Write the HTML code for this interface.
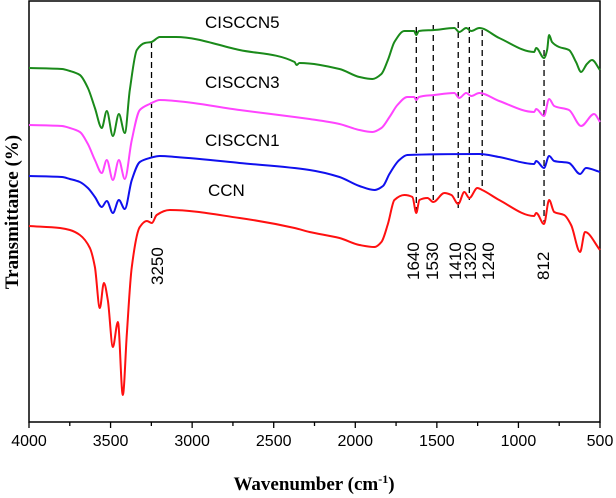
<!DOCTYPE html>
<html><head><meta charset="utf-8"><style>
html,body{margin:0;padding:0;background:#fff;}
svg{display:block;}
text{font-family:"Liberation Sans",Arial,sans-serif;}
</style></head><body>
<svg id="chart" width="616" height="498" viewBox="0 0 616 498" xmlns="http://www.w3.org/2000/svg">
<g id="plot"></g>
<text x="314" y="490" text-anchor="middle" style="font-family:'Liberation Serif',serif;font-weight:bold;font-size:19px;">Wavenumber (cm<tspan dy="-7" font-size="12">-1</tspan><tspan dy="7">)</tspan></text>
<text transform="translate(18,212) rotate(-90)" text-anchor="middle" style="font-family:'Liberation Serif',serif;font-weight:bold;font-size:19px;">Transmittance (%)</text>
</svg>
<script>
const xTicks = [4000,3500,3000,2500,2000,1500,1000,500];
const seriesNames = ["CISCCN5","CISCCN3","CISCCN1","CCN"];
const seriesColors = ["#1a8a1a","#ff44ff","#1010ee","#ff1010"];
const greenW = [4000,3798,3749,3688,3639,3596,3554,3523,3486,3449,3413,3382,3339,3290,3250,3198,3100,2709,2372,2360,2342,2097,1975,1895,1840,1800,1760,1699,1640,1626,1610,1516,1393,1363,1320,1289,1240,1118,904,891,843,824,812,794,751,690,647,616,580,549,500];
const greenV = [354,353,351,347,334,314,294,311,286,308,289,332,372,379,380,385,385,372,360,357,359,353,345,343,348,362,380,391,391,387,391,392,394,390,394,391,394,384,370,374,364,372,387,380,375,372,360,350,358,362,352];
const pinkW = [4000,3798,3749,3688,3639,3596,3554,3523,3486,3449,3413,3370,3321,3260,3198,3100,2709,2372,2280,2097,1975,1895,1840,1790,1742,1681,1640,1626,1610,1516,1393,1363,1320,1289,1240,1118,904,891,843,812,781,690,616,536,500];
const pinkV = [297,296,294,290,278,262,249,262,242,262,243,282,312,318,322,321,312,305,303,298,292,290,294,305,317,325,325,322,325,327,329,324,329,326,329,321,310,313,306,323,316,312,296,308,300];
const blueW = [4000,3798,3749,3688,3639,3596,3554,3523,3486,3449,3413,3370,3321,3260,3198,3100,2709,2280,2097,1975,1883,1830,1791,1730,1681,1240,1118,904,891,843,812,781,690,622,586,500];
const blueV = [246,245,243,240,234,225,215,221,209,222,213,242,260,264,266,265,259,252,245,236,232,236,248,262,267,268,265,258,261,254,266,261,259,248,254,250];
const redW = [4000,3810,3749,3688,3627,3596,3566,3541,3517,3486,3455,3425,3400,3370,3321,3278,3247,3217,3137,2709,2372,2280,2097,1975,1883,1840,1800,1760,1699,1650,1626,1607,1558,1522,1454,1411,1369,1332,1301,1252,1222,1118,904,891,843,812,781,720,677,622,592,500];
const redV = [196,194,192,187,174,155,114,139,122,75,100,27,89,155,195,201,199,207,212,204,194,190,184,177,175,180,198,222,227,225,209,222,224,220,229,227,218,230,224,234,232,222,206,209,198,222,210,207,197,170,190,172];
const markerW = [3249,1626,1522,1369,1301,1222,843];
const markerLabels = ["3250","1640","1530","1410","1320","1240","812"];
const markerTop = [380,395,397,400,395,392,372];
const markerBottom = [204,207,222,212,222,232,200];

const NS="http://www.w3.org/2000/svg";
const L=29,R=600,T=1,B=422;
function xs(w){return L+(4000-w)*(R-L)/3500;}
function ys(v){return B-v*(B-T)/421;}
const plot=document.getElementById('plot');
function mk(tag,attrs){const e=document.createElementNS(NS,tag);for(const k in attrs)e.setAttribute(k,attrs[k]);plot.appendChild(e);return e;}
function monoPath(p){
  const n=p.length, dx=[], s=[], m=[];
  for(let i=0;i<n-1;i++){dx[i]=p[i+1][0]-p[i][0]; s[i]=(p[i+1][1]-p[i][1])/dx[i];}
  m[0]=s[0]; m[n-1]=s[n-2];
  for(let i=1;i<n-1;i++){
    if(s[i-1]*s[i]<=0) m[i]=0;
    else { const w1=2*dx[i]+dx[i-1], w2=dx[i]+2*dx[i-1]; m[i]=(w1+w2)/(w1/s[i-1]+w2/s[i]); }
  }
  let d='M'+p[0][0].toFixed(1)+','+p[0][1].toFixed(1);
  for(let i=0;i<n-1;i++){
    const h=dx[i]/3;
    d+=` C${(p[i][0]+h).toFixed(1)},${(p[i][1]+m[i]*h).toFixed(1)} ${(p[i+1][0]-h).toFixed(1)},${(p[i+1][1]-m[i+1]*h).toFixed(1)} ${p[i+1][0].toFixed(1)},${p[i+1][1].toFixed(1)}`;
  }
  return d;
}

const frame=mk('rect',{x:L,y:T,width:R-L,height:B-T,fill:'none',stroke:'#000','stroke-width':1.5});



for(let w=4000;w>=500;w-=250){
  const major=(w%500===0);
  const t=mk('line',{x1:xs(w),x2:xs(w),y1:B,y2:B+(major?6:4),stroke:'#000','stroke-width':1.3});
  
  
}
xTicks.forEach(w=>{
  const t=mk('text',{x:xs(w),y:446,'text-anchor':'middle','font-size':16});
  t.textContent=w;
  
  
});

markerW.forEach((w,i)=>{
  const l=mk('line',{x1:xs(w),x2:xs(w),y1:ys(markerTop[i]),y2:ys(markerBottom[i]),stroke:'#000','stroke-width':1.3,'stroke-dasharray':'6,4'});
  
  
});
const lblX=[157,413,432,455,470,488,543];
const lblBottom=[285,280,280,280,280,280,280];
markerLabels.forEach((s,i)=>{
  const t=mk('text',{transform:`translate(${lblX[i]+6},${lblBottom[i]}) rotate(-90)`,'font-size':17});
  t.textContent=s;
  
  
});

const allW=[greenW,pinkW,blueW,redW], allV=[greenV,pinkV,blueV,redV];
allW.forEach((ws,si)=>{
  const pts=ws.map((w,i)=>[xs(w),ys(allV[si][i])]);
  const p=mk('path',{d:monoPath(pts),fill:'none',stroke:seriesColors[si],'stroke-width':2,'stroke-linejoin':'round'});
  
  
});

const nameX=[205,205,205,208], nameY=[28,88,146,196];
seriesNames.forEach((n,i)=>{
  const t=mk('text',{x:nameX[i],y:nameY[i],'font-size':17});
  t.textContent=n;
  
  
});
</script>
</body></html>
